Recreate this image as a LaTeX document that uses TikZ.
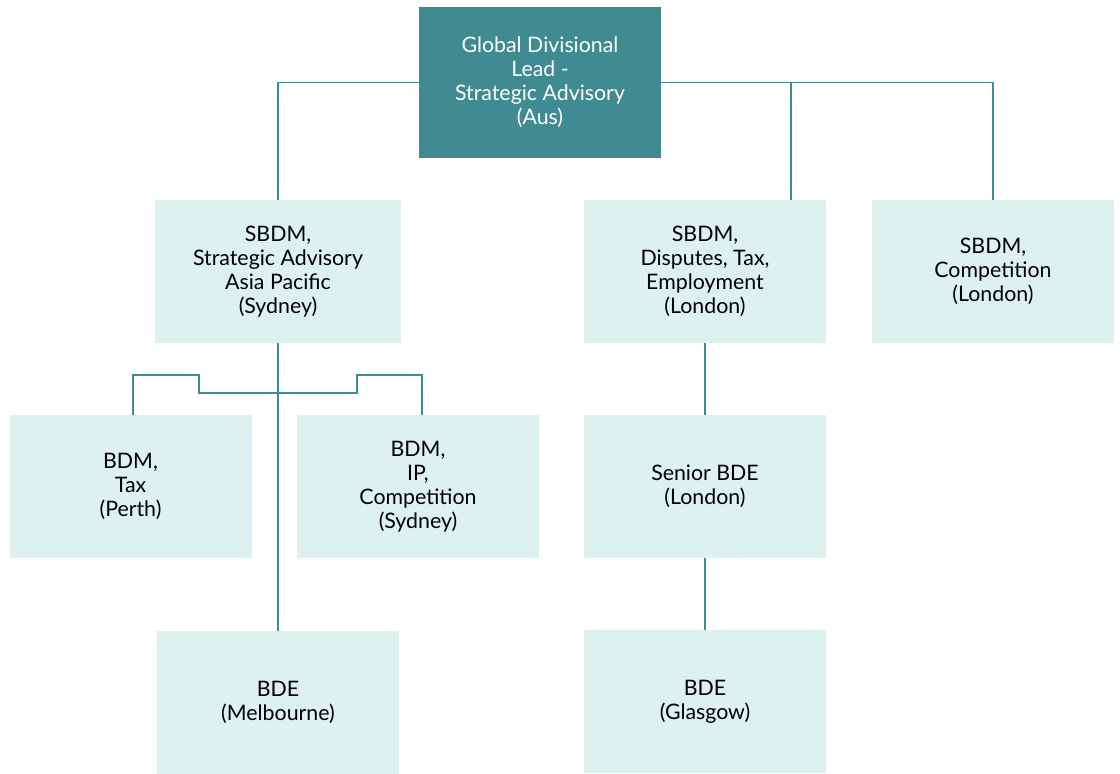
\documentclass[tikz,border=0pt]{standalone}
\usepackage{fontspec}
\setmainfont{Lato}
\usetikzlibrary{calc}
\definecolor{teal1}{HTML}{408A92}
\definecolor{mint}{HTML}{DDF1EF}
\begin{document}
\begin{tikzpicture}[x=0.75pt,y=-0.75pt,
  unit/.style={fill=mint,minimum width=181.5pt,minimum height=107.5pt,inner sep=0pt,align=center,font=\fontsize{16}{18}\selectfont},
  head/.style={unit,fill=teal1,text=white,minimum height=113pt},
  link/.style={draw=teal1,line width=0.8pt}]
\useasboundingbox (0,0) rectangle (1120,774);
\node[head](lead) at (540,82.5){Global Divisional\\Lead -\\Strategic Advisory\\(Aus)};
\node[unit,minimum width=184.5pt](apac) at (278,271.5){SBDM,\\Strategic Advisory\\Asia Pacific\\(Sydney)};
\node[unit](disp) at (705,271.5){SBDM,\\Disputes, Tax,\\Employment\\(London)};
\node[unit](comp) at (993,271.5){SBDM,\\Competition\\(London)};
\node[unit](tax) at (130.5,486.5){BDM,\\Tax\\(Perth)};
\node[unit](ip) at (418,486.5){BDM,\\IP,\\Competition\\(Sydney)};
\node[unit](sbde) at (705,486.5){Senior BDE\\(London)};
\node[unit](melb) at (278,702.5){BDE\\(Melbourne)};
\node[unit](glas) at (705,701.5){BDE\\(Glasgow)};
\coordinate(fork) at (278,393);
% top level
\draw[link](lead.west)-|(apac.north);
\draw[link](lead.east)-|($(disp.north)+(86,0)$);
\draw[link](lead.east)-|(comp.north);
% sydney branch
\draw[link](apac.south)--(melb.north);
\draw[link](fork)--(199,393)|-(133,375)--($(tax.north)+(2.5,0)$);
\draw[link](fork)--(357,393)|-(422,375)--($(ip.north)+(4,0)$);
% london branch
\draw[link](disp.south)--(sbde.north);
\draw[link](sbde.south)--(glas.north);
\end{tikzpicture}
\end{document}
